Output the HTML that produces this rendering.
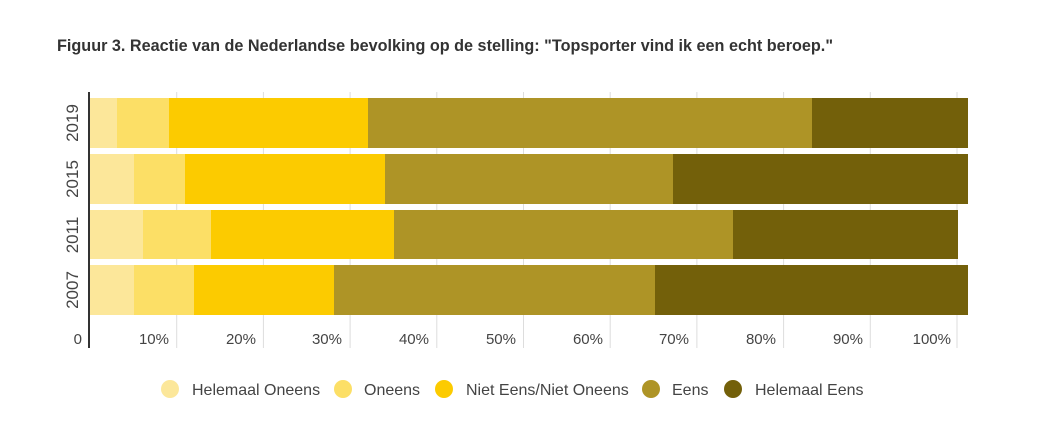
<!DOCTYPE html>
<html><head><meta charset="utf-8"><style>
body{margin:0;background:#fff;}
svg text{font-family:"Liberation Sans",Arial,sans-serif;}
</style></head><body>
<svg width="1060" height="437" xmlns="http://www.w3.org/2000/svg">
<rect width="1060" height="437" fill="#fff"/>
<text x="57" y="51" font-size="16.5" font-weight="bold" fill="#333" textLength="776" lengthAdjust="spacingAndGlyphs">Figuur 3. Reactie van de Nederlandse bevolking op de stelling: "Topsporter vind ik een echt beroep."</text>
<g stroke="#ddd" stroke-width="1">
<line x1="176.7" y1="92" x2="176.7" y2="348"/><line x1="263.4" y1="92" x2="263.4" y2="348"/><line x1="350.1" y1="92" x2="350.1" y2="348"/><line x1="436.8" y1="92" x2="436.8" y2="348"/><line x1="523.5" y1="92" x2="523.5" y2="348"/><line x1="610.2" y1="92" x2="610.2" y2="348"/><line x1="696.9" y1="92" x2="696.9" y2="348"/><line x1="783.6" y1="92" x2="783.6" y2="348"/><line x1="870.3" y1="92" x2="870.3" y2="348"/><line x1="957" y1="92" x2="957" y2="348"/>
</g>
<rect x="90" y="98" width="27" height="50" fill="#FCE79A"/><rect x="117" y="98" width="52" height="50" fill="#FCDF66"/><rect x="169" y="98" width="199" height="50" fill="#FCCB00"/><rect x="368" y="98" width="444" height="50" fill="#AE9426"/><rect x="812" y="98" width="156" height="50" fill="#73600A"/>
<rect x="90" y="154" width="44" height="50" fill="#FCE79A"/><rect x="134" y="154" width="51" height="50" fill="#FCDF66"/><rect x="185" y="154" width="200" height="50" fill="#FCCB00"/><rect x="385" y="154" width="288" height="50" fill="#AE9426"/><rect x="673" y="154" width="295" height="50" fill="#73600A"/>
<rect x="90" y="210" width="53" height="49" fill="#FCE79A"/><rect x="143" y="210" width="68" height="49" fill="#FCDF66"/><rect x="211" y="210" width="183" height="49" fill="#FCCB00"/><rect x="394" y="210" width="339" height="49" fill="#AE9426"/><rect x="733" y="210" width="225" height="49" fill="#73600A"/>
<rect x="90" y="265" width="44" height="50" fill="#FCE79A"/><rect x="134" y="265" width="60" height="50" fill="#FCDF66"/><rect x="194" y="265" width="140" height="50" fill="#FCCB00"/><rect x="334" y="265" width="321" height="50" fill="#AE9426"/><rect x="655" y="265" width="313" height="50" fill="#73600A"/>
<line x1="89" y1="92" x2="89" y2="348" stroke="#333" stroke-width="2"/>
<g font-size="17" fill="#444">
<text transform="translate(78,123) rotate(-90)" text-anchor="middle">2019</text>
<text transform="translate(78,179) rotate(-90)" text-anchor="middle">2015</text>
<text transform="translate(78,235) rotate(-90)" text-anchor="middle">2011</text>
<text transform="translate(78,290) rotate(-90)" text-anchor="middle">2007</text>
</g>
<g font-size="15" fill="#444" text-anchor="end">
<text x="82" y="344">0</text><text x="169" y="344">10%</text><text x="256" y="344">20%</text><text x="342" y="344">30%</text><text x="429" y="344">40%</text><text x="516" y="344">50%</text><text x="603" y="344">60%</text><text x="689" y="344">70%</text><text x="776" y="344">80%</text><text x="863" y="344">90%</text><text x="951" y="344">100%</text>
</g>
<g font-size="16" fill="#444">
<circle cx="170" cy="389" r="9" fill="#FCE79A"/><text x="192" y="395">Helemaal Oneens</text>
<circle cx="343" cy="389" r="9" fill="#FCDF66"/><text x="364" y="395">Oneens</text>
<circle cx="444" cy="389" r="9" fill="#FCCB00"/><text x="466" y="395">Niet Eens/Niet Oneens</text>
<circle cx="651" cy="389" r="9" fill="#AE9426"/><text x="672" y="395">Eens</text>
<circle cx="733" cy="389" r="9" fill="#73600A"/><text x="755" y="395">Helemaal Eens</text>
</g>
</svg>
</body></html>
